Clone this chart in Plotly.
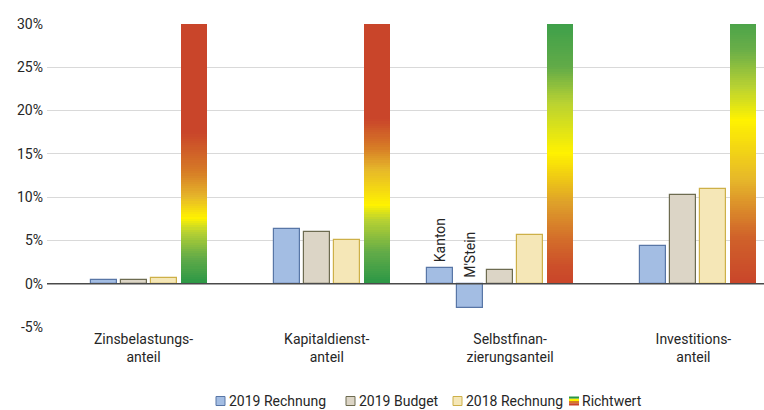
import plotly.graph_objects as go

# ---------------- data ----------------
categories = ["Zinsbelastungs-<br>anteil", "Kapitaldienst-<br>anteil",
              "Selbstfinan-<br>zierungsanteil", "Investitions-<br>anteil"]
rechnung_2019 = [0.45, 6.3, -2.8, 4.3]      # group 3 = M'Stein
kanton_2019 = [None, None, 1.8, None]        # only Selbstfinanzierung
budget_2019 = [0.4, 6.0, 1.6, 10.2]
rechnung_2018 = [0.65, 5.0, 5.6, 10.9]
richtwert = [30, 30, 30, 30]
y_tickvals = [-5, 0, 5, 10, 15, 20, 25, 30]
y_ticktext = ["-5%", "0%", "5%", "10%", "15%", "20%", "25%", "30%"]
legend_names = ["2019 Rechnung", "2019 Budget", "2018 Rechnung", "Richtwert"]

# ---------------- style ----------------
FONT = "Roboto"
FS = 14
TXT = "#262626"
C_R19, L_R19 = "#a3bde3", "#5876a6"
C_B19, L_B19 = "#dcd5c6", "#6d6b50"
C_R18, L_R18 = "#f5e7b7", "#cdb048"
RED, ORANGE, GOLD, YEL, YG, GM, GD = ("#c9452a", "#d67a26", "#e6b72a", "#fff200",
                                     "#b9d232", "#62ab48", "#2a9746")
# colour stops (value in %, colour) for the Richtwert gradient of each category
grad_stops = [
    [(0, GD), (3, GM), (6, YG), (7.6, YEL), (10, GOLD), (13, ORANGE), (17.5, RED), (30, RED)],
    [(0, GD), (3.6, GM), (7.4, YG), (9.1, YEL), (13.2, GOLD), (15.8, ORANGE), (19, RED), (30, RED)],
    [(0, RED), (2, "#cc4f2a"), (5.4, "#d4702a"), (9.3, "#dea02a"), (15.1, YEL), (20.9, YG), (25, GM), (30, "#3ea04a")],
    [(0, RED), (5.4, "#d0622a"), (8.2, "#d9852a"), (12, GOLD), (18.9, YEL), (22.7, YG), (27, "#6aae48"), (30, "#4ca44a")],
]

PX_PER_UNIT = 183.3
PITCH = 30 / PX_PER_UNIT
WIDTH = 26 / PX_PER_UNIT
FIRST_CENTER_PX = 148.5


def hex2rgb(h):
    h = h.lstrip("#")
    return tuple(int(h[i:i + 2], 16) for i in (0, 2, 4))


def color_at(stops, v):
    for (v0, c0), (v1, c1) in zip(stops[:-1], stops[1:]):
        if v0 <= v <= v1:
            t = 0 if v1 == v0 else (v - v0) / (v1 - v0)
            a, b = hex2rgb(c0), hex2rgb(c1)
            return "rgb(%d,%d,%d)" % tuple(round(a[i] + (b[i] - a[i]) * t) for i in range(3))
    return stops[-1][1]


def slot_x(i, slot):
    return i + (slot - 1.5) * PITCH


fig = go.Figure()

n = len(categories)
# Kanton (extra bar left of the group)
kx = [slot_x(i, -1) for i in range(n) if kanton_2019[i] is not None]
ky = [v for v in kanton_2019 if v is not None]
fig.add_trace(go.Bar(x=kx, y=ky, width=WIDTH, marker=dict(color=C_R19, line=dict(color=L_R19, width=1.2)),
                     showlegend=False, hoverinfo="skip"))
fig.add_trace(go.Bar(x=[slot_x(i, 0) for i in range(n)], y=rechnung_2019, width=WIDTH,
                     marker=dict(color=C_R19, line=dict(color=L_R19, width=1.2)), showlegend=False))
fig.add_trace(go.Bar(x=[slot_x(i, 1) for i in range(n)], y=budget_2019, width=WIDTH,
                     marker=dict(color=C_B19, line=dict(color=L_B19, width=1.2)), showlegend=False))
fig.add_trace(go.Bar(x=[slot_x(i, 2) for i in range(n)], y=rechnung_2018, width=WIDTH,
                     marker=dict(color=C_R18, line=dict(color=L_R18, width=1.2)), showlegend=False))

# Richtwert gradient bars: overlapping bars from 0 to decreasing tops
STEP = 0.25
gx, gy, gc = [], [], []
for i in range(n):
    top = richtwert[i]
    k = int(round(top / STEP))
    for j in range(k, 0, -1):
        t = j * STEP
        gx.append(slot_x(i, 3))
        gy.append(t)
        gc.append(color_at(grad_stops[i], t - STEP / 2))
fig.add_trace(go.Bar(x=gx, y=gy, width=WIDTH, marker=dict(color=gc, line=dict(width=0)),
                     showlegend=False, hoverinfo="skip"))

# labels Kanton / M'Stein
annos = []
for i in range(n):
    if kanton_2019[i] is not None:
        annos.append(dict(x=slot_x(i, -1), y=max(kanton_2019[i], 0), text="Kanton"))
        annos.append(dict(x=slot_x(i, 0), y=max(rechnung_2019[i], 0), text="M'Stein"))
for a in annos:
    a.update(xref="x", yref="y", textangle=-90, showarrow=False, yanchor="bottom",
             xanchor="center", yshift=4, font=dict(family=FONT, size=FS, color=TXT))

# custom legend
L, PW, T, PH = 47, 717, 24, 303
leg_icon_px = [216, 346, 453, 569]
leg_y = -(401 - (T + PH)) / PH
shapes = []
fills = [(C_R19, L_R19), (C_B19, L_B19), (C_R18, L_R18)]
for k, name in enumerate(legend_names):
    xp = (leg_icon_px[k] - L) / PW
    if k < 3:
        shapes.append(dict(type="rect", xref="paper", yref="paper", xsizemode="pixel", ysizemode="pixel",
                           xanchor=xp, yanchor=leg_y, x0=0, x1=9, y0=-4.5, y1=4.5,
                           fillcolor=fills[k][0], line=dict(color=fills[k][1], width=1)))
    else:
        for s, col in enumerate([GD, YEL, ORANGE, RED]):
            shapes.append(dict(type="rect", xref="paper", yref="paper", xsizemode="pixel", ysizemode="pixel",
                               xanchor=xp, yanchor=leg_y, x0=0, x1=10, y0=4.5 - 2.25 * (s + 1), y1=4.5 - 2.25 * s,
                               fillcolor=col, line=dict(width=0)))
    annos.append(dict(xref="paper", yref="paper", x=xp, y=leg_y, xshift=11, text=name, showarrow=False,
                      xanchor="left", yanchor="middle", font=dict(family=FONT, size=FS, color=TXT)))

# zero line above bars
shapes.append(dict(type="line", xref="paper", yref="y", x0=0, x1=1, y0=0, y1=0,
                   line=dict(color="#4a4a4a", width=1.5), layer="above"))

fig.update_layout(
    width=764, height=410, margin=dict(l=L, r=0, t=T, b=410 - T - PH),
    paper_bgcolor="white", plot_bgcolor="white", barmode="overlay", bargap=0,
    showlegend=False, annotations=annos, shapes=shapes,
    font=dict(family=FONT, size=FS, color=TXT),
    xaxis=dict(range=[(L - FIRST_CENTER_PX) / PX_PER_UNIT, (764 - FIRST_CENTER_PX) / PX_PER_UNIT],
               tickvals=list(range(n)), ticktext=categories, showgrid=False, zeroline=False,
               showline=False, ticks="", ticklabelshift=-5, ticklabelstandoff=2,
               tickfont=dict(family=FONT, size=FS, color=TXT)),
    yaxis=dict(range=[-5, 30], tickvals=y_tickvals, ticktext=y_ticktext, showgrid=True,
               gridcolor="#d9d9d9", gridwidth=1, zeroline=False, showline=False, ticks="",
               ticklabelstandoff=3, tickfont=dict(family=FONT, size=FS, color=TXT)),
)

fig.write_html("out.html")
